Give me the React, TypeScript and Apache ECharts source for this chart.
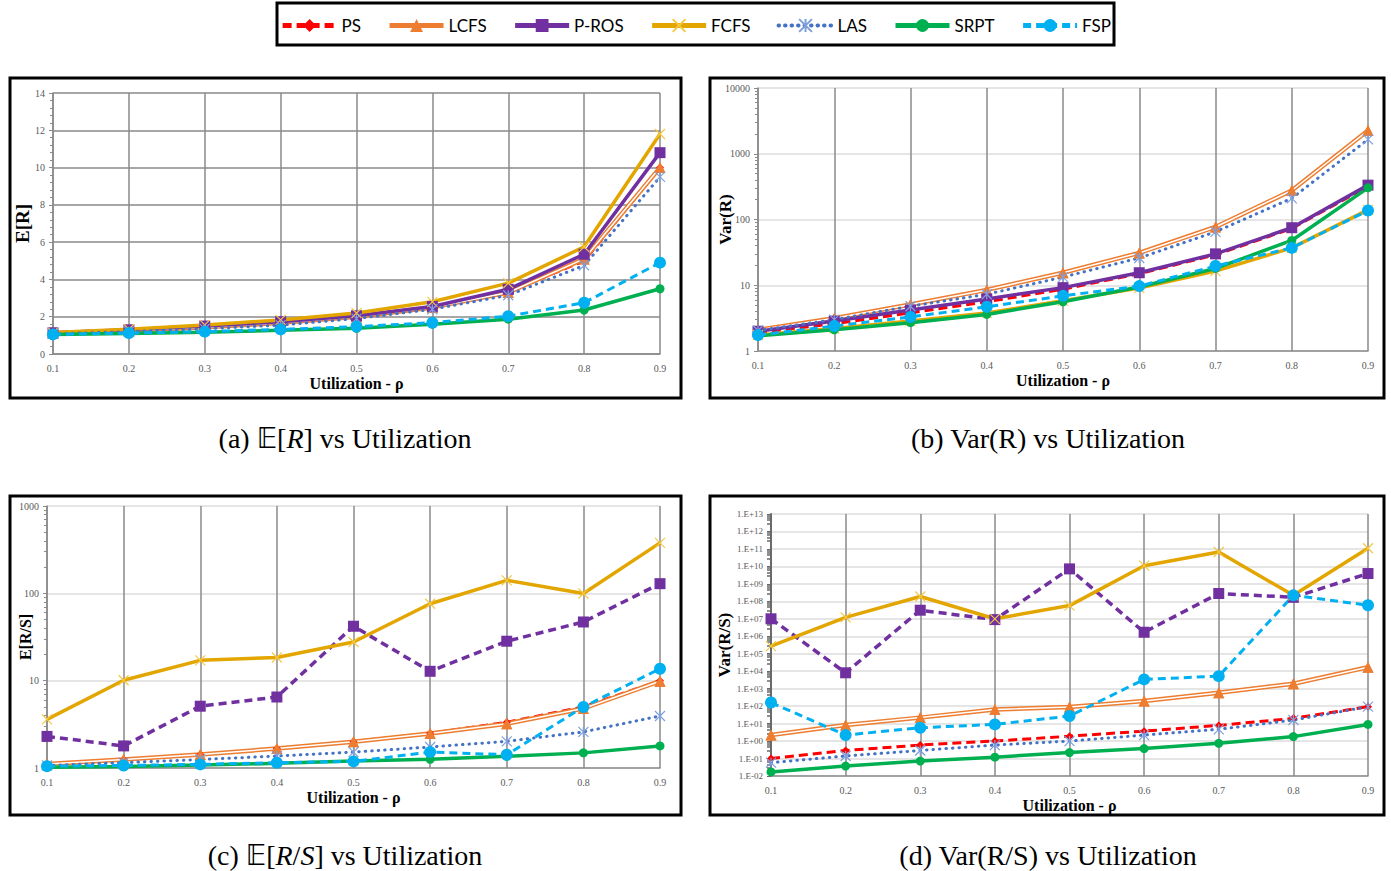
import React, { useEffect, useRef } from "react";
import * as echarts from "echarts";

const X_LABELS = ["0.1", "0.2", "0.3", "0.4", "0.5", "0.6", "0.7", "0.8", "0.9"];
const POLICIES = ["PS", "LCFS", "P-ROS", "FCFS", "LAS", "SRPT", "FSP"];

// (a) E[R]
const ER_PS = [1.11, 1.25, 1.43, 1.67, 2.0, 2.5, 3.33, 5.0, 10.0];
const ER_LCFS = [1.11, 1.25, 1.43, 1.67, 2.0, 2.5, 3.3, 5.1, 10.0];
const ER_PROS = [1.14, 1.3, 1.5, 1.73, 2.05, 2.55, 3.47, 5.35, 10.8];
const ER_FCFS = [1.15, 1.33, 1.56, 1.83, 2.2, 2.8, 3.8, 5.75, 11.8];
const ER_LAS = [1.08, 1.2, 1.35, 1.55, 1.9, 2.4, 3.15, 4.75, 9.5];
const ER_SRPT = [1.04, 1.1, 1.17, 1.27, 1.38, 1.6, 1.87, 2.36, 3.5];
const ER_FSP = [1.05, 1.12, 1.2, 1.32, 1.47, 1.68, 2.03, 2.75, 4.9];

// (b) Var(R)
const VR_PS = [1.9, 2.6, 3.8, 5.6, 8.7, 15, 29, 73, 320];
const VR_LCFS = [2.1, 3.15, 5.1, 8.5, 15.5, 31, 77, 276, 2250];
const VR_PROS = [2.0, 2.85, 4.2, 6.2, 9.2, 15.5, 30, 75, 333];
const VR_FCFS = [1.75, 2.2, 2.85, 3.8, 5.8, 9.1, 16.4, 37, 140];
const VR_LAS = [2.05, 3.0, 4.8, 7.3, 13.3, 26, 65, 210, 1650];
const VR_SRPT = [1.7, 2.1, 2.7, 3.6, 5.6, 9.4, 18, 48, 303];
const VR_FSP = [1.75, 2.4, 3.3, 4.7, 6.9, 9.7, 19.6, 37, 137];

// (c) E[R/S]
const ERS_PS = [1.11, 1.25, 1.43, 1.67, 2.0, 2.5, 3.33, 5.0, 10.0];
const ERS_LCFS = [1.11, 1.25, 1.43, 1.67, 2.0, 2.48, 3.22, 4.8, 9.85];
const ERS_PROS = [2.3, 1.79, 5.1, 6.5, 42, 12.8, 28.3, 47, 129];
const ERS_FCFS = [3.6, 10.1, 17.1, 18.4, 27.7, 76, 141, 99.5, 378];
const ERS_LAS = [1.07, 1.15, 1.25, 1.37, 1.52, 1.74, 2.02, 2.59, 3.94];
const ERS_SRPT = [1.02, 1.04, 1.08, 1.13, 1.2, 1.26, 1.36, 1.49, 1.79];
const ERS_FSP = [1.05, 1.07, 1.1, 1.15, 1.19, 1.52, 1.42, 5.0, 13.7];

// (d) Var(R/S)
const VRS_PS = [0.1, 0.29, 0.59, 1.0, 1.9, 3.7, 7.9, 20, 93];
const VRS_LCFS = [2.2, 8.4, 22, 65, 89, 195, 590, 1900, 17000];
const VRS_PROS = [1.0e7, 8.1e3, 3.1e7, 9e6, 7.2e9, 1.7e6, 2.8e8, 1.7e8, 3.9e9];
const VRS_FCFS = [2.7e5, 1.2e7, 1.9e8, 1.0e7, 5.7e7, 1.1e10, 6.7e10, 2.2e8, 1.1e11];
const VRS_LAS = [0.058, 0.14, 0.29, 0.59, 1.0, 2.2, 4.7, 16, 93];
const VRS_SRPT = [0.017, 0.037, 0.072, 0.12, 0.22, 0.37, 0.74, 1.8, 9];
const VRS_FSP = [160, 2.2, 5.8, 9, 27, 3400, 5200, 2.2e8, 6e7];

const X_SYMBOL = "path://M0,0L10,10M10,0L0,10";
const STAR_SYMBOL = "path://M0,0L10,10M10,0L0,10M5,0L5,10";

const C = {
  PS: "#FF0000",
  LCFS: "#ED7D31",
  PROS: "#7030A0",
  FCFS: "#E3A600",
  LAS: "#4472C4",
  SRPT: "#00B050",
  FSP: "#00B0F0",
};

function buildSeries(g: number, d: number[][], prosDashed: boolean) {
  const [ps, lcfs, pros, fcfs, las, srpt, fsp] = d;
  const base = { type: "line", xAxisIndex: g, yAxisIndex: g, showSymbol: true, animation: false };
  return [
    {
      ...base, name: "PS", data: ps, symbol: "diamond", symbolSize: 8,
      itemStyle: { color: C.PS },
      lineStyle: { color: C.PS, width: 3, type: [9, 5] },
    },
    {
      ...base, name: "LCFS", data: lcfs, symbol: "triangle", symbolSize: 11,
      itemStyle: { color: C.LCFS },
      lineStyle: { color: C.LCFS, width: 4.5 },
    },
    {
      ...base, name: "LCFS_inner", data: lcfs, symbol: "none",
      itemStyle: { color: "#ffffff" },
      lineStyle: { color: "#ffffff", width: 1.5 },
      silent: true,
    },
    {
      ...base, name: "LCFS_mk", data: lcfs, symbol: "triangle", symbolSize: 11,
      itemStyle: { color: C.LCFS },
      lineStyle: { width: 0, opacity: 0 },
      silent: true,
    },
    {
      ...base, name: "P-ROS", data: pros, symbol: "rect", symbolSize: 11,
      itemStyle: { color: C.PROS },
      lineStyle: { color: C.PROS, width: 3.5, type: prosDashed ? [8, 5] : "solid" },
    },
    {
      ...base, name: "FCFS", data: fcfs, symbol: X_SYMBOL, symbolSize: 10,
      itemStyle: { color: "#F5D060", borderColor: "#F5C842", borderWidth: 1.2 },
      lineStyle: { color: C.FCFS, width: 3.5 },
    },
    {
      ...base, name: "LAS", data: las, symbol: STAR_SYMBOL, symbolSize: 10,
      itemStyle: { color: "#8FAADC", borderColor: "#7F9FDC", borderWidth: 1.2 },
      lineStyle: { color: C.LAS, width: 3, type: [0.5, 6], cap: "round" },
    },
    {
      ...base, name: "SRPT", data: srpt, symbol: "circle", symbolSize: 9,
      itemStyle: { color: C.SRPT },
      lineStyle: { color: C.SRPT, width: 3.5 },
    },
    {
      ...base, name: "FSP", data: fsp, symbol: "circle", symbolSize: 12,
      itemStyle: { color: C.FSP },
      lineStyle: { color: C.FSP, width: 3, type: [8, 5] },
    },
  ];
}

const LABEL_FONT = { color: "#595959", fontSize: 10, fontFamily: "Liberation Serif, serif" };
const NAME_FONT = { color: "#000", fontSize: 16, fontWeight: "bold", fontFamily: "Liberation Serif, serif" };
const DARK = "#8A8A8A";
const LIGHT = "#DCDCDC";

function xAxis(g: number) {
  return {
    type: "category",
    gridIndex: g,
    data: X_LABELS,
    boundaryGap: false,
    name: "Utilization - ρ",
    nameLocation: "middle",
    nameGap: 21,
    nameMoveOverlap: false,
    nameTextStyle: NAME_FONT,
    axisLine: { lineStyle: { color: DARK, width: 1.5 } },
    axisTick: { show: false },
    axisLabel: { ...LABEL_FONT, margin: 9 },
    splitLine: { show: true, lineStyle: { color: DARK, width: 1.5 } },
  };
}

function expLabel(v: number) {
  const e = Math.round(Math.log10(v));
  return "1.E" + (e < 0 ? "-" : "+") + String(Math.abs(e)).padStart(2, "0");
}
function plainLabel(v: number) {
  return String(Math.round(v));
}

function yCommon(g: number, name: string, gap: number, size: number) {
  return {
    gridIndex: g,
    name,
    nameLocation: "middle",
    nameGap: gap,
    nameMoveOverlap: false,
    nameTextStyle: { ...NAME_FONT, fontSize: size },
    axisLine: { show: true, lineStyle: { color: DARK, width: 1.5 } },
    axisTick: { show: true, length: 4, lineStyle: { color: DARK } },
  };
}

export default function App() {
  const ref = useRef<HTMLDivElement>(null);
  useEffect(() => {
    if (!ref.current) return;
    const chart = echarts.init(ref.current, null, { renderer: "svg" });
    const serifRich = {
      bb: { fontSize: 28, fontFamily: "DejaVu Sans, Noto Sans, serif", fill: "#000" },
      it: { fontSize: 28, fontFamily: "Liberation Serif, serif", fontStyle: "italic", fill: "#000" },
    };
    const capStyle = (text: string, x: number, y: number) => ({
      type: "text",
      x,
      y,
      style: {
        text,
        fill: "#000",
        fontSize: 28,
        fontFamily: "Liberation Serif, serif",
        align: "center",
        verticalAlign: "middle",
        rich: serifRich,
      },
    });
    const box = (x: number, y: number, w: number, h: number) => ({
      type: "rect",
      shape: { x, y, width: w, height: h },
      style: { fill: "none", stroke: "#000", lineWidth: 3 },
      silent: true,
    });
    const legendData = POLICIES.map((n) => ({
      name: n,
      lineStyle: { width: n === "LAS" ? 4 : 5 },
    }));

    const option = {
      animation: false,
      backgroundColor: "#fff",
      legend: {
        data: legendData,
        left: "center",
        top: 12,
        itemWidth: 54,
        itemHeight: 16,
        itemGap: 26,
        textStyle: { color: "#000", fontSize: 17, fontFamily: "Lato, sans-serif" },
      },
      grid: [
        { left: 53, top: 93, width: 607, height: 261 },
        { left: 758, top: 88, width: 610, height: 263 },
        { left: 47, top: 506, width: 613, height: 262 },
        { left: 771, top: 514, width: 597, height: 262 },
      ],
      xAxis: [xAxis(0), xAxis(1), xAxis(2), xAxis(3)],
      yAxis: [
        {
          ...yCommon(0, "E[R]", 21, 19),
          type: "value", min: 0, max: 14, interval: 2,
          minorTick: { show: true, splitNumber: 5, length: 3, lineStyle: { color: DARK } },
          axisLabel: { ...LABEL_FONT, margin: 8 },
          splitLine: { show: true, lineStyle: { color: DARK, width: 1.5 } },
        },
        {
          ...yCommon(1, "Var(R)", 24, 17),
          type: "log", logBase: 10, min: 1, max: 10000, splitNumber: 4,
          minorTick: { show: true, splitNumber: 9, length: 3, lineStyle: { color: DARK } },
          axisLabel: { ...LABEL_FONT, margin: 8, formatter: plainLabel },
          splitLine: { show: true, lineStyle: { color: LIGHT, width: 1.5 } },
        },
        {
          ...yCommon(2, "E[R/S]", 14, 16),
          type: "log", logBase: 10, min: 1, max: 1000, splitNumber: 3,
          minorTick: { show: true, splitNumber: 9, length: 3, lineStyle: { color: DARK } },
          axisLabel: { ...LABEL_FONT, margin: 8, formatter: plainLabel },
          splitLine: { show: true, lineStyle: { color: LIGHT, width: 1.5 } },
        },
        {
          ...yCommon(3, "Var(R/S)", 38, 17),
          type: "log", logBase: 10, min: 0.01, max: 1e13, interval: 1,
          axisLine: { show: true, lineStyle: { color: "#6A6A6A", width: 2 } },
          axisTick: { show: true, length: 4, lineStyle: { color: "#6A6A6A" } },
          minorTick: { show: true, splitNumber: 5, length: 4, lineStyle: { color: "#6A6A6A", width: 1.5 } },
          axisLabel: { ...LABEL_FONT, fontSize: 9, margin: 8, formatter: expLabel },
          splitLine: { show: true, lineStyle: { color: LIGHT, width: 1.5 } },
        },
      ],
      series: [
        ...buildSeries(0, [ER_PS, ER_LCFS, ER_PROS, ER_FCFS, ER_LAS, ER_SRPT, ER_FSP], false),
        ...buildSeries(1, [VR_PS, VR_LCFS, VR_PROS, VR_FCFS, VR_LAS, VR_SRPT, VR_FSP], false),
        ...buildSeries(2, [ERS_PS, ERS_LCFS, ERS_PROS, ERS_FCFS, ERS_LAS, ERS_SRPT, ERS_FSP], true),
        ...buildSeries(3, [VRS_PS, VRS_LCFS, VRS_PROS, VRS_FCFS, VRS_LAS, VRS_SRPT, VRS_FSP], true),
      ],
      graphic: [
        box(277, 3, 837, 42),
        box(10, 78, 671, 320),
        box(710, 78, 674, 320),
        box(10, 496, 671, 319),
        box(710, 496, 674, 319),
        capStyle("(a) {bb|𝔼}[{it|R}] vs Utilization", 345, 438),
        capStyle("(b) Var(R) vs Utilization", 1048, 438),
        capStyle("(c) {bb|𝔼}[{it|R}/{it|S}] vs Utilization", 345, 855),
        capStyle("(d) Var(R/S) vs Utilization", 1048, 855),
      ],
    };
    chart.setOption(option as any);
    return () => chart.dispose();
  }, []);
  return (
    <div
      ref={ref}
      style={{ position: "absolute", left: 0, top: 0, width: 1391, height: 871, background: "#fff" }}
    />
  );
}
